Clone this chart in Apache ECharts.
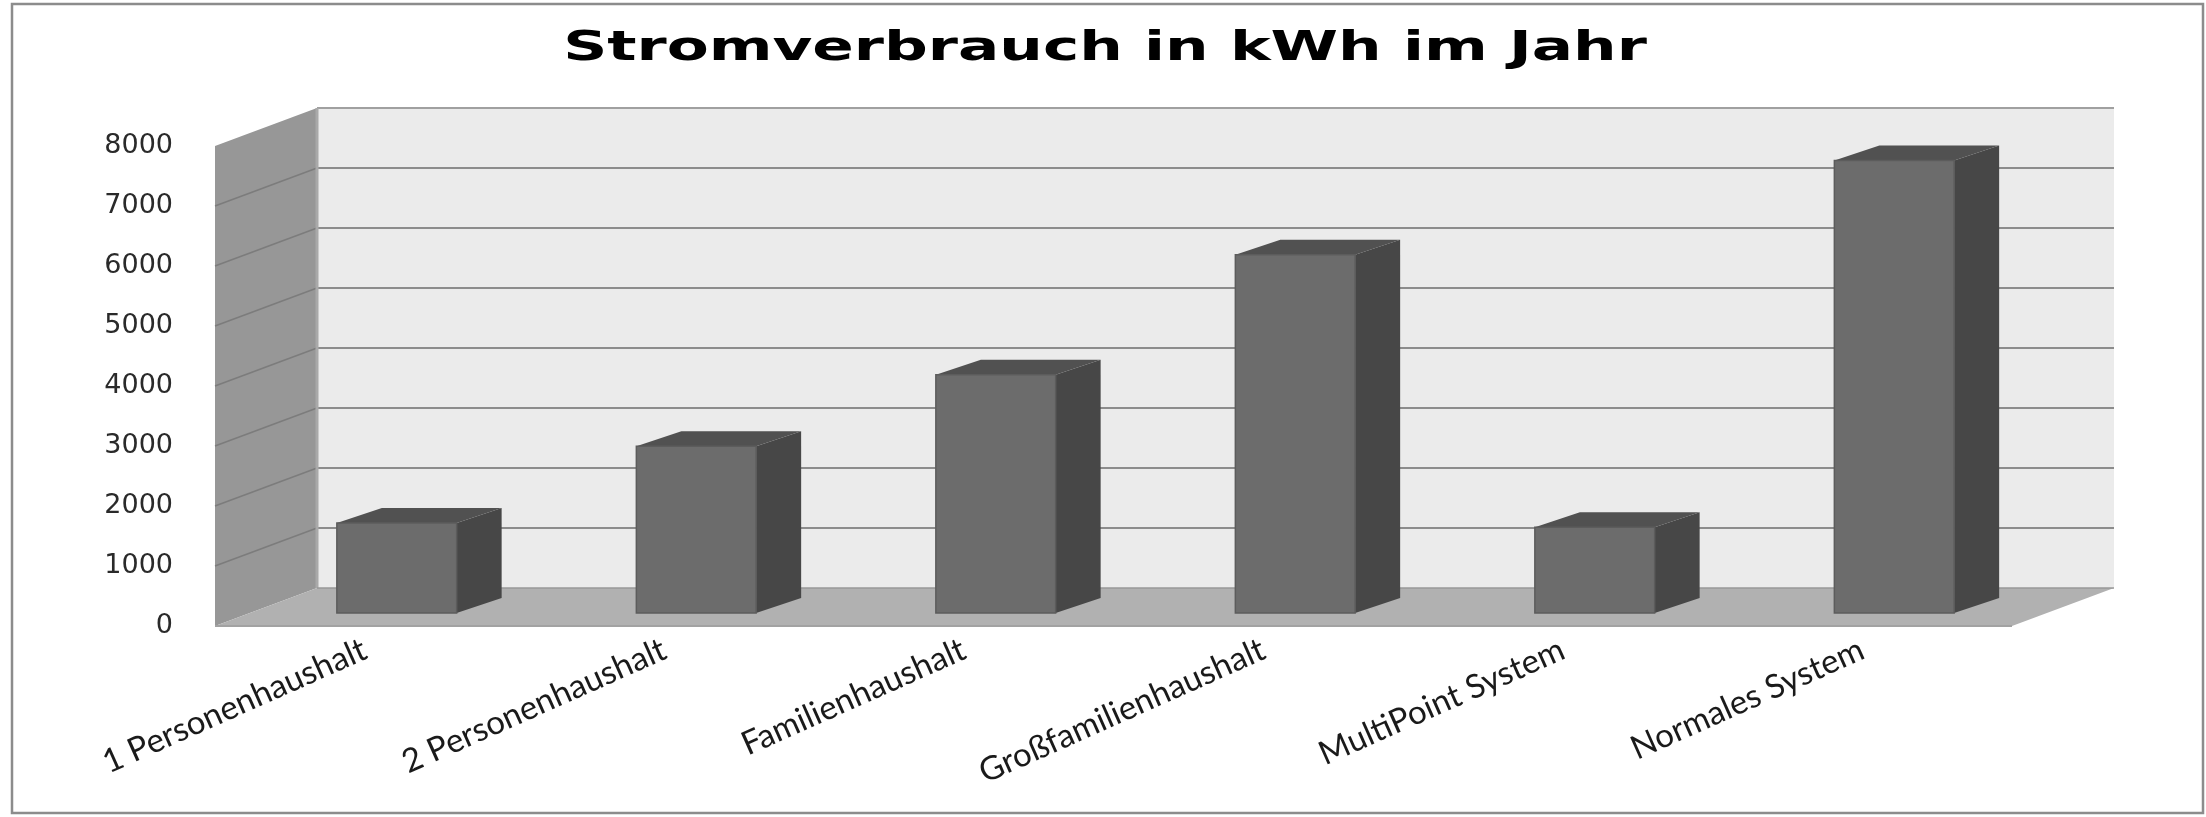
<!DOCTYPE html>
<html>
<head>
<meta charset="utf-8">
<script src="https://cdn.jsdelivr.net/npm/echarts@6/dist/echarts.min.js"></script>
<style>
  html, body { margin: 0; padding: 0; background: #fff; }
  #chart { width: 2206px; height: 817px; }
</style>
</head>
<body>
<div id="chart"></div>
<script>
const chartTitle = 'Stromverbrauch in kWh im Jahr';
const categories = ['1 Personenhaushalt', '2 Personenhaushalt', 'Familienhaushalt', 'Großfamilienhaushalt', 'MultiPoint System', 'Normales System'];
const values = [1500, 2780, 3970, 5970, 1430, 7540];
const yTicks = [0, 1000, 2000, 3000, 4000, 5000, 6000, 7000, 8000];

// oblique 3D offsets (pixels)
const WALL_DX = 102, WALL_DY = -38;
const BAR_OFF_X = 32, BAR_OFF_Y = -13;
const BAR_DX = 45, BAR_DY = -15;

const chart = echarts.init(document.getElementById('chart'));

function renderWalls(params, api) {
    const cs = params.coordSys;
    const children = [];
    const bx = cs.x + WALL_DX, by = cs.y + WALL_DY;
    const yMax = yTicks[yTicks.length - 1];
    // back wall
    children.push({ type: 'rect', shape: { x: bx, y: by, width: cs.width, height: cs.height }, style: { fill: '#ebebeb' } });
    yTicks.forEach(v => {
        const y = api.coord([0, v])[1];
        if (v > 0) {
            children.push({ type: 'line', shape: { x1: bx, y1: y + WALL_DY, x2: bx + cs.width, y2: y + WALL_DY },
                style: { stroke: v === yMax ? '#a0a0a0' : '#8c8c8c', lineWidth: 2 } });
        }
    });
    // side wall
    const bottom = cs.y + cs.height;
    children.push({ type: 'polygon', shape: { points: [[cs.x, cs.y], [bx, by], [bx, bottom + WALL_DY], [cs.x, bottom]] },
        style: { fill: '#979797' } });
    yTicks.forEach(v => {
        const y = api.coord([0, v])[1];
        if (v > 0 && v < yMax) {
            children.push({ type: 'line', shape: { x1: cs.x, y1: y, x2: bx, y2: y + WALL_DY },
                style: { stroke: '#7c7c7c', lineWidth: 1.5 } });
        }
    });
    children.push({ type: 'line', shape: { x1: bx, y1: by, x2: bx, y2: bottom + WALL_DY }, style: { stroke: '#a9a9a9', lineWidth: 3 } });
    // floor
    children.push({ type: 'polygon', shape: { points: [[cs.x, bottom], [cs.x + cs.width, bottom], [bx + cs.width, bottom + WALL_DY], [bx, bottom + WALL_DY]] },
        style: { fill: '#b1b1b1' } });
    children.push({ type: 'line', shape: { x1: bx, y1: bottom + WALL_DY, x2: bx + cs.width, y2: bottom + WALL_DY }, style: { stroke: '#999', lineWidth: 1.5 } });
    children.push({ type: 'line', shape: { x1: cs.x, y1: bottom, x2: cs.x + cs.width, y2: bottom }, style: { stroke: '#a2a2a2', lineWidth: 2 } });
    return { type: 'group', children: children };
}

function renderBar(params, api) {
    const i = api.value(0), v = api.value(1);
    const base = api.coord([i, 0]);
    const top = api.coord([i, v]);
    const w = api.size([1, 0])[0] * 0.4;
    const xL = base[0] + BAR_OFF_X - w / 2, xR = xL + w;
    const yB = base[1] + BAR_OFF_Y, yT = top[1] + BAR_OFF_Y;
    return {
        type: 'group',
        children: [
            { type: 'polygon', shape: { points: [[xR, yT], [xR + BAR_DX, yT + BAR_DY], [xR + BAR_DX, yB + BAR_DY], [xR, yB]] }, style: { fill: '#474747' } },
            { type: 'polygon', shape: { points: [[xL, yT], [xL + BAR_DX, yT + BAR_DY], [xR + BAR_DX, yT + BAR_DY], [xR, yT]] }, style: { fill: '#515151' } },
            { type: 'rect', shape: { x: xL, y: yT, width: w, height: yB - yT }, style: { fill: '#6c6c6c', stroke: '#5c5c5c', lineWidth: 1.5 } }
        ]
    };
}

const option = {
    backgroundColor: '#fff',
    animation: false,
    graphic: [
        { type: 'rect', shape: { x: 12, y: 4, width: 2191, height: 809 }, style: { fill: null, stroke: '#8c8c8c', lineWidth: 2.5 }, silent: true },
        { type: 'text', x: 1105, y: 50, scaleX: 1.53,
          style: { text: chartTitle, font: 'bold 40px "DejaVu Sans"', fill: '#000', align: 'center', verticalAlign: 'middle' } }
    ],
    grid: { left: 215, top: 146, width: 1797, height: 480 },
    xAxis: {
        type: 'category',
        data: categories,
        axisLine: { show: false },
        axisTick: { show: false },
        axisLabel: { rotate: 24, margin: 22, fontSize: 33, fontFamily: 'Lato', color: '#1a1a1a', interval: 0 }
    },
    yAxis: {
        type: 'value',
        min: 0,
        max: 8000,
        interval: 1000,
        axisLine: { show: false },
        axisTick: { show: false },
        splitLine: { show: false },
        axisLabel: { margin: 42, fontSize: 27, fontFamily: 'DejaVu Sans', color: '#2a2a2a', formatter: v => String(v) }
    },
    series: [
        { type: 'custom', name: 'walls', renderItem: renderWalls, data: [[0, 0]], z: 1, silent: true },
        { type: 'custom', name: 'Stromverbrauch', renderItem: renderBar, data: values.map((v, i) => [i, v]), z: 2 }
    ]
};

chart.setOption(option);
window.addEventListener('resize', () => chart.resize());
</script>
</body>
</html>
